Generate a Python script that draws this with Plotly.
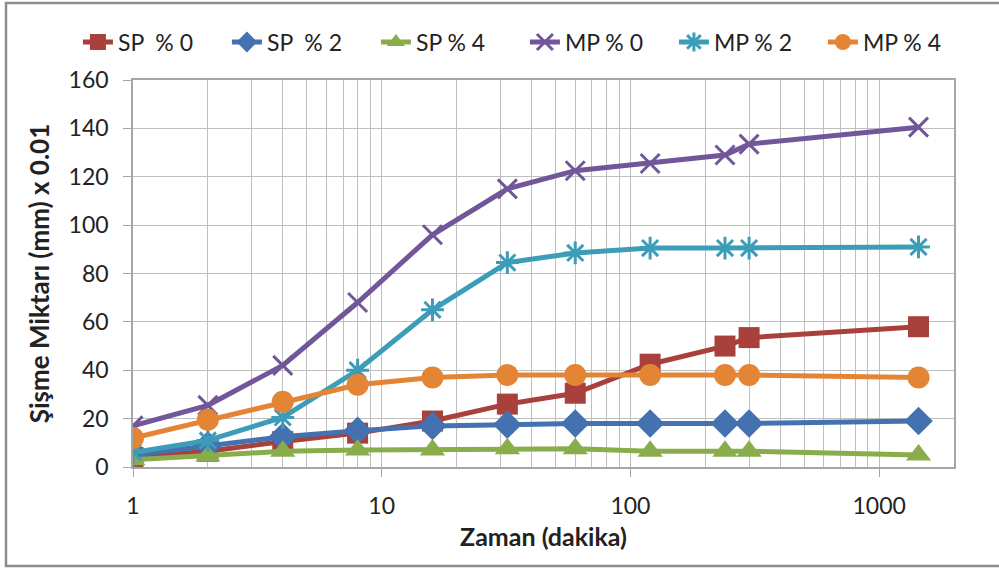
import plotly.graph_objects as go

# Time in minutes (log scale)
zaman = [1, 2, 4, 8, 16, 32, 60, 120, 240, 300, 1440]

# Swelling amounts (mm x 0.01)
sp_0 = [4, 6.5, 10.5, 14, 19, 26, 30.5, 42.5, 50, 53.5, 58]
sp_2 = [5, 9, 12.5, 15, 17, 17.5, 18, 18, 18, 18, 19]
sp_4 = [3, 4.5, 6.5, 7, 7, 7.5, 7.5, 6.5, 6.5, 6.5, 5]
mp_0 = [17, 25.5, 42, 68, 96, 115, 122.5, 125.5, 129, 133.5, 140.5]
mp_2 = [6, 11, 20.5, 40, 65, 84.5, 88.5, 90.5, 90.5, 90.5, 91]
mp_4 = [12, 19.5, 27, 34, 37, 38, 38, 38, 38, 38, 37]

series_names = ["SP\u00a0\u00a0% 0", "SP\u00a0\u00a0% 2", "SP % 4", "MP % 0", "MP % 2", "MP % 4"]
x_tick_vals = [1, 10, 100, 1000]
y_tick_vals = [0, 20, 40, 60, 80, 100, 120, 140, 160]

styles = [
    dict(color="#A8403C", symbol="square", size=21, open=False),
    dict(color="#4472B0", symbol="diamond", size=22, open=False),
    dict(color="#8AAD4B", symbol="triangle-up", size=22, open=False),
    dict(color="#71579A", symbol="x-thin-open", size=19, open=True),
    dict(color="#3C9DB8", symbol="asterisk-open", size=19, open=True),
    dict(color="#E48535", symbol="circle", size=22, open=False),
]

fig = go.Figure()
for name, ys, st in zip(series_names, [sp_0, sp_2, sp_4, mp_0, mp_2, mp_4], styles):
    marker = dict(symbol=st["symbol"], size=st["size"], color=st["color"])
    if st["open"]:
        marker["line"] = dict(color=st["color"], width=3)
    else:
        marker["line"] = dict(width=0)
    fig.add_trace(go.Scatter(
        x=zaman, y=ys, name=name, mode="lines+markers",
        line=dict(color=st["color"], width=5),
        marker=marker,
    ))

minor_vals = [m * 10 ** d for d in range(0, 4) for m in range(2, 10) if m * 10 ** d < 2000]

W, H = 999, 568
plot_left, plot_right = 133, 954

grid_color = "#BFBFBF"
base_font = "Lato, sans-serif"
fig.update_layout(
    width=W, height=H,
    margin=dict(l=0, r=0, t=80, b=101, autoexpand=False),
    paper_bgcolor="white", plot_bgcolor="white",
    font=dict(family=base_font, size=23, color="#222222"),
    legend=dict(
        orientation="h", xref="container", yref="container",
        x=0.078, y=0.926, xanchor="left", yanchor="middle",
        font=dict(size=23), entrywidth=104, entrywidthmode="pixels", tracegroupgap=0,
    ),
    xaxis=dict(
        type="log", range=[0, 3.301],
        domain=[plot_left / W, plot_right / W],
        tickvals=x_tick_vals, ticktext=[str(v) for v in x_tick_vals],
        ticks="outside", ticklen=8, tickcolor="#A6A6A6",
        showgrid=True, gridcolor=grid_color, gridwidth=1.3,
        minor=dict(tickvals=minor_vals, showgrid=True, gridcolor=grid_color, gridwidth=1.3, ticks=""),
        showline=True, linecolor="#A6A6A6", linewidth=1.5, mirror=True,
        ticklabelstandoff=10,
        tickfont=dict(family=base_font, size=23),
        title=dict(text="<b>Zaman (dakika)</b>", font=dict(family=base_font, size=25), standoff=10),
        zeroline=False,
    ),
    yaxis=dict(
        range=[0, 160], tickvals=y_tick_vals,
        ticks="outside", ticklen=8, tickcolor="#A6A6A6",
        showgrid=True, gridcolor=grid_color, gridwidth=1.3,
        showline=True, linecolor="#A6A6A6", linewidth=1.5, mirror=True,
        ticklabelstandoff=10,
        tickfont=dict(family=base_font, size=23),
        title=dict(text="<b>Şişme Miktarı (mm) x 0.01</b>", font=dict(family=base_font, size=26), standoff=12),
        zeroline=False,
    ),
    shapes=[dict(
        type="rect", xref="paper", yref="paper",
        x0=6 / W, x1=1.004, y0=-0.2558, y1=1.199,
        line=dict(color="#8C8C8C", width=2.5), fillcolor="rgba(0,0,0,0)", layer="below",
    )],
)

fig.write_html("out.html")
